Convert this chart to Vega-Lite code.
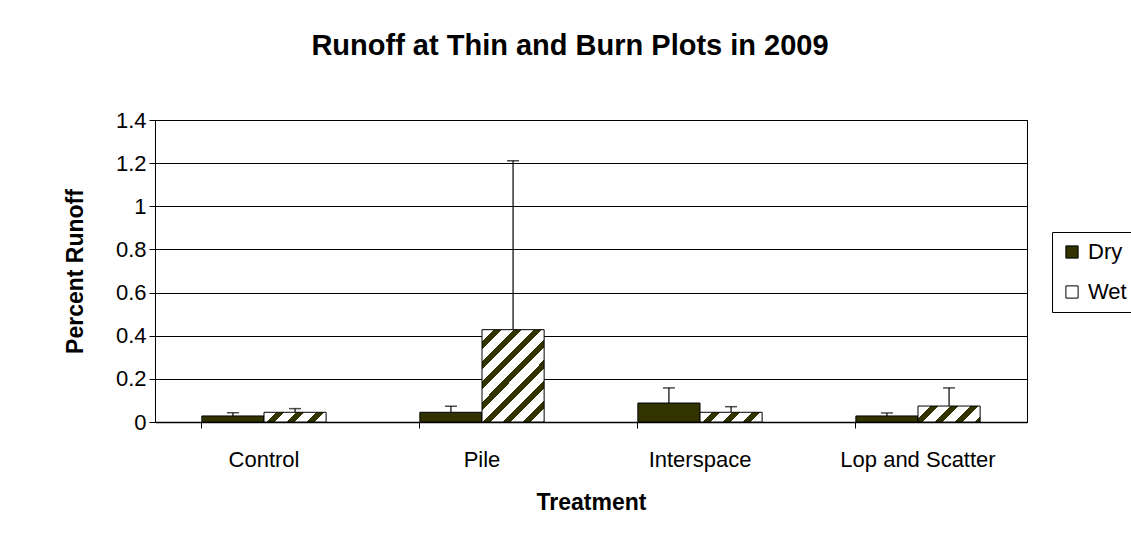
{
  "$schema": "https://vega.github.io/schema/vega-lite/v6.json",
  "autosize": {"type": "none"},
  "width": 872,
  "height": 302,
  "padding": {"left": 155, "top": 120, "right": 104, "bottom": 117},
  "background": "white",
  "title": {
    "text": "Runoff at Thin and Burn Plots in 2009",
    "font": "Liberation Sans",
    "fontSize": 29,
    "fontWeight": "bold",
    "color": "black",
    "anchor": "middle",
    "dx": -21,
    "offset": 48
  },
  "config": {
    "view": {"stroke": "black", "strokeWidth": 1},
    "font": "Liberation Sans",
    "axis": {
      "labelFont": "Liberation Sans",
      "titleFont": "Liberation Sans",
      "labelColor": "black",
      "titleColor": "black",
      "domainColor": "black",
      "tickColor": "black"
    }
  },
  "data": {
    "values": [
      {"Treatment": "Control", "Condition": "Dry", "Percent": 0.028, "ErrTop": 0.043},
      {"Treatment": "Control", "Condition": "Wet", "Percent": 0.045, "ErrTop": 0.062},
      {"Treatment": "Pile", "Condition": "Dry", "Percent": 0.045, "ErrTop": 0.073},
      {"Treatment": "Pile", "Condition": "Wet", "Percent": 0.428, "ErrTop": 1.211},
      {"Treatment": "Interspace", "Condition": "Dry", "Percent": 0.088, "ErrTop": 0.158},
      {"Treatment": "Interspace", "Condition": "Wet", "Percent": 0.045, "ErrTop": 0.071},
      {"Treatment": "Lop and Scatter", "Condition": "Dry", "Percent": 0.028, "ErrTop": 0.042},
      {"Treatment": "Lop and Scatter", "Condition": "Wet", "Percent": 0.074, "ErrTop": 0.158}
    ]
  },
  "encoding": {
    "x": {
      "field": "Treatment",
      "type": "nominal",
      "sort": ["Control", "Pile", "Interspace", "Lop and Scatter"],
      "scale": {"paddingInner": 0.43, "paddingOuter": 0.215},
      "axis": {
        "title": "Treatment",
        "titleFontSize": 23,
        "titleFontWeight": "bold",
        "titlePadding": 21,
        "labelFontSize": 22,
        "labelAngle": 0,
        "labelPadding": 21,
        "tickSize": 6,
        "bandPosition": 0,
        "domainWidth": 1.5,
        "grid": false
      }
    },
    "xOffset": {
      "field": "Condition",
      "type": "nominal",
      "scale": {"domain": ["Dry", "Wet"], "paddingInner": 0, "paddingOuter": 0}
    }
  },
  "layer": [
    {
      "mark": {"type": "bar", "stroke": "black", "strokeWidth": 1},
      "encoding": {
        "y": {
          "field": "Percent",
          "type": "quantitative",
          "scale": {"domain": [0, 1.4], "nice": false},
          "axis": {
            "title": "Percent Runoff",
            "titleFontSize": 23,
            "titleFontWeight": "bold",
            "titlePadding": 28,
            "labelFontSize": 22,
            "labelPadding": 3,
            "tickSize": 6,
            "format": "~g",
            "values": [0, 0.2, 0.4, 0.6, 0.8, 1, 1.2, 1.4],
            "grid": true,
            "gridColor": "black",
            "gridWidth": 1,
            "gridOpacity": 1
          }
        },
        "fill": {
          "field": "Condition",
          "type": "nominal",
          "scale": {"domain": ["Dry", "Wet"], "range": ["#333300", "#ffffff"]},
          "legend": {
            "title": null,
            "orient": "none",
            "legendX": 897,
            "legendY": 112,
            "strokeColor": "black",
            "fillColor": "white",
            "padding": 9,
            "symbolType": "square",
            "symbolSize": 150,
            "symbolStrokeColor": "black",
            "symbolStrokeWidth": 1,
            "labelFont": "Liberation Sans",
            "labelFontSize": 22,
            "labelColor": "black",
            "labelOffset": 5,
            "rowPadding": 18,
            "encode": {
              "symbols": {
                "update": {
                  "stroke": {"value": "black"},
                  "strokeWidth": {"value": 1},
                  "fill": {"signal": "datum.value === 'Wet' ? {gradient: 'linear', x1: 0, y1: 0, x2: 1, y2: 1, stops: [{offset: 0, color: '#ffffff'}, {offset: 0.5, color: '#ffffff'}, {offset: 0.5, color: '#333300'}, {offset: 1, color: '#333300'}]} : '#333300'"}
                }
              }
            }
          },
          "condition": [
            {
              "test": "datum.Condition === 'Wet' && datum.Treatment === 'Pile'",
              "value": {"gradient": "linear", "x1": 0, "y1": 0, "x2": 0.776, "y2": 1.151, "stops": [
                {"offset": 0, "color": "#ffffff"}, {"offset": 0.078, "color": "#ffffff"}, {"offset": 0.078, "color": "#333300"}, {"offset": 0.13, "color": "#333300"},
                {"offset": 0.13, "color": "#ffffff"}, {"offset": 0.208, "color": "#ffffff"}, {"offset": 0.208, "color": "#333300"}, {"offset": 0.26, "color": "#333300"},
                {"offset": 0.26, "color": "#ffffff"}, {"offset": 0.338, "color": "#ffffff"}, {"offset": 0.338, "color": "#333300"}, {"offset": 0.39, "color": "#333300"},
                {"offset": 0.39, "color": "#ffffff"}, {"offset": 0.468, "color": "#ffffff"}, {"offset": 0.468, "color": "#333300"}, {"offset": 0.52, "color": "#333300"},
                {"offset": 0.52, "color": "#ffffff"}, {"offset": 0.598, "color": "#ffffff"}, {"offset": 0.598, "color": "#333300"}, {"offset": 0.65, "color": "#333300"},
                {"offset": 0.65, "color": "#ffffff"}, {"offset": 0.728, "color": "#ffffff"}, {"offset": 0.728, "color": "#333300"}, {"offset": 0.78, "color": "#333300"},
                {"offset": 0.78, "color": "#ffffff"}, {"offset": 0.858, "color": "#ffffff"}, {"offset": 0.858, "color": "#333300"}, {"offset": 0.91, "color": "#333300"},
                {"offset": 0.91, "color": "#ffffff"}, {"offset": 0.988, "color": "#ffffff"}, {"offset": 0.988, "color": "#333300"}, {"offset": 1, "color": "#333300"}
              ]}
            },
            {
              "test": "datum.Condition === 'Wet' && datum.Treatment === 'Lop and Scatter'",
              "value": {"gradient": "linear", "x1": 0, "y1": 0, "x2": 1.18, "y2": 0.304, "stops": [
                {"offset": 0, "color": "#ffffff"}, {"offset": 0.154, "color": "#ffffff"}, {"offset": 0.154, "color": "#333300"}, {"offset": 0.256, "color": "#333300"},
                {"offset": 0.256, "color": "#ffffff"}, {"offset": 0.41, "color": "#ffffff"}, {"offset": 0.41, "color": "#333300"}, {"offset": 0.513, "color": "#333300"},
                {"offset": 0.513, "color": "#ffffff"}, {"offset": 0.667, "color": "#ffffff"}, {"offset": 0.667, "color": "#333300"}, {"offset": 0.769, "color": "#333300"},
                {"offset": 0.769, "color": "#ffffff"}, {"offset": 0.923, "color": "#ffffff"}, {"offset": 0.923, "color": "#333300"}, {"offset": 1, "color": "#333300"}
              ]}
            },
            {
              "test": "datum.Condition === 'Wet'",
              "value": {"gradient": "linear", "x1": 0, "y1": 0, "x2": 1.129, "y2": 0.177, "stops": [
                {"offset": 0, "color": "#ffffff"}, {"offset": 0.167, "color": "#ffffff"}, {"offset": 0.167, "color": "#333300"}, {"offset": 0.279, "color": "#333300"},
                {"offset": 0.279, "color": "#ffffff"}, {"offset": 0.446, "color": "#ffffff"}, {"offset": 0.446, "color": "#333300"}, {"offset": 0.558, "color": "#333300"},
                {"offset": 0.558, "color": "#ffffff"}, {"offset": 0.725, "color": "#ffffff"}, {"offset": 0.725, "color": "#333300"}, {"offset": 0.837, "color": "#333300"},
                {"offset": 0.837, "color": "#ffffff"}, {"offset": 1, "color": "#ffffff"}
              ]}
            }
          ]
        }
      }
    },
    {
      "mark": {"type": "rule", "color": "black", "strokeWidth": 1.2},
      "encoding": {
        "y": {"field": "Percent", "type": "quantitative"},
        "y2": {"field": "ErrTop"}
      }
    },
    {
      "mark": {"type": "tick", "color": "black", "size": 12, "thickness": 1.5},
      "encoding": {
        "y": {"field": "ErrTop", "type": "quantitative"}
      }
    }
  ]
}
